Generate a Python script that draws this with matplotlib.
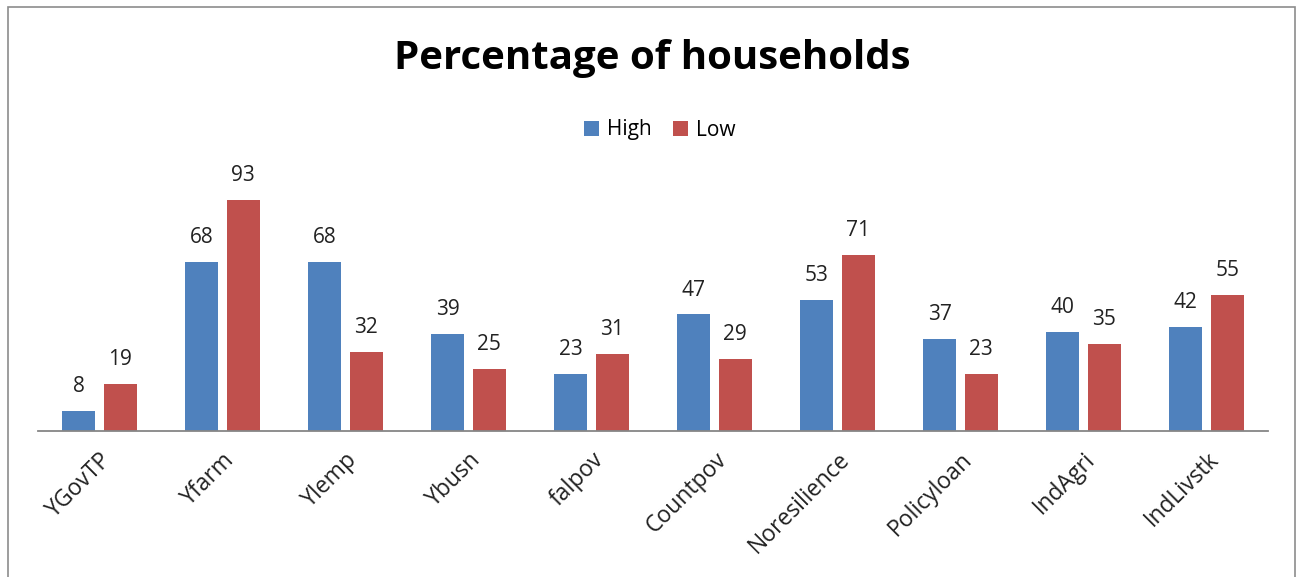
import matplotlib.pyplot as plt
import matplotlib.patches as mpatches
import numpy as np

plt.rcParams['font.family'] = ['Open Sans', 'DejaVu Sans']

categories = ['YGovTP', 'Yfarm', 'Ylemp', 'Ybusn', 'falpov', 'Countpov',
              'Noresilience', 'Policyloan', 'IndAgri', 'IndLivstk']
high = [8, 68, 68, 39, 23, 47, 53, 37, 40, 42]
low = [19, 93, 32, 25, 31, 29, 71, 23, 35, 55]

fig = plt.figure(figsize=(12.99, 5.77), dpi=100)
# outer chart border
fig.patches.append(mpatches.Rectangle((8/1299, -0.05), 1287/1299, 1.05 - 7/577,
                                      transform=fig.transFigure, fill=False,
                                      edgecolor='#8c8c8c', linewidth=1.2))
ax = fig.add_axes([38/1299, 1 - 431/577, 1230/1299, 248/577])

x = np.arange(len(categories))
w = 0.27
b1 = ax.bar(x - 0.168, high, w, color='#4F81BD', label='High')
b2 = ax.bar(x + 0.168, low, w, color='#C0504D', label='Low')

for bars in (b1, b2):
    for r in bars:
        ax.annotate(str(int(r.get_height())), (r.get_x() + r.get_width()/2, r.get_height()),
                    xytext=(0, 10), textcoords='offset points', ha='center', va='bottom',
                    fontsize=15, color='#222222', annotation_clip=False)

ax.set_xlim(-0.5, len(categories) - 0.5)
ax.set_ylim(0, 100)
ax.set_yticks([])
ax.set_xticks(x)
ax.set_xticklabels(categories, rotation=45, ha='right', rotation_mode='anchor',
                   fontsize=16.5, color='#222222')
ax.tick_params(axis='x', length=0, pad=12)
for s in ['top', 'right', 'left']:
    ax.spines[s].set_visible(False)
ax.spines['bottom'].set_color('#868686')
ax.spines['bottom'].set_linewidth(1.3)

fig.text(0.502, 1 - 58/577, 'Percentage of households', ha='center', va='center',
         fontsize=29, fontweight='bold')
fig.legend(handles=[b1, b2], loc='center', bbox_to_anchor=(0.508, 1 - 130/577),
           ncol=2, frameon=False, fontsize=15, handlelength=0.7, handleheight=0.7,
           columnspacing=1.0, handletextpad=0.4)

fig.savefig('out.png', dpi=100)
